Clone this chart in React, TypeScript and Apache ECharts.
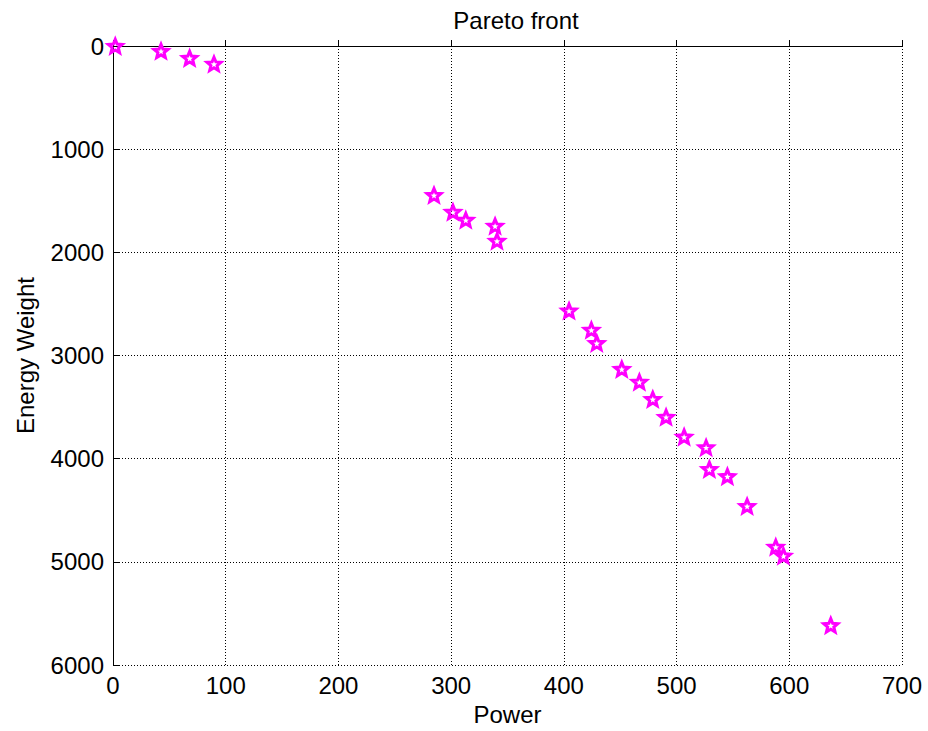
import React, { useEffect, useRef } from "react";
import * as echarts from "echarts";

const powerValues = [2, 42.6, 68, 89.6, 284.8, 301.6, 313, 339, 340.7, 404.6, 424.4, 429.2, 451.4, 467, 478.9, 490.7, 506.7, 526.2, 529.1, 545.1, 562.6, 588, 594.8, 636.8];
const energyValues = [0, 48, 116, 173, 1445, 1608, 1685, 1743, 1888, 2565, 2751, 2879, 3130, 3255, 3422, 3595, 3787, 3890, 4100, 4170, 4459, 4854, 4940, 5614];

const xTicks = { min: 0, max: 700, interval: 100 };
const yTicks = { min: 0, max: 6000, interval: 1000 };

const STAR = "path://M50 0 L62.93 32.2 L97.55 34.55 L70.92 56.8 L79.39 90.45 L50 72 L20.61 90.45 L29.08 56.8 L2.45 34.55 L37.07 32.2 Z";

const FONT = "'Liberation Sans', Arial, sans-serif";

export default function App() {
  const ref = useRef<HTMLDivElement>(null);
  useEffect(() => {
    document.body.style.margin = "0";
    const chart = echarts.init(ref.current!, null, { renderer: "svg" });
    const data = powerValues.map((p, i) => [p, energyValues[i]]);
    const axisLine = { show: true, lineStyle: { color: "#000", width: 1 } };
    const axisTick = { show: true, inside: true, length: 6, lineStyle: { color: "#000" } };
    const splitLine = { show: true, lineStyle: { color: "#000", type: [1, 2] as any, width: 1 } };
    chart.setOption({
      animation: false,
      backgroundColor: "#fff",
      title: {
        text: "Pareto front",
        left: 511,
        textAlign: "center",
        top: 3,
        textStyle: { fontFamily: FONT, fontSize: 24, fontWeight: "normal", color: "#000" },
      },
      grid: { left: 113, top: 46, width: 789, height: 622, containLabel: false },
      xAxis: {
        type: "value",
        position: "bottom",
        ...xTicks,
        name: "Power",
        nameLocation: "middle",
        nameGap: 35,
        nameTextStyle: { fontFamily: FONT, fontSize: 24, color: "#000" },
        axisLine,
        axisTick,
        splitLine,
        axisLabel: { fontFamily: FONT, fontSize: 24, color: "#000", margin: 8, formatter: (v: number) => String(v) },
      },
      yAxis: {
        type: "value",
        position: "left",
        inverse: true,
        ...yTicks,
        name: "Energy Weight",
        nameLocation: "middle",
        nameGap: 76,
        nameTextStyle: { fontFamily: FONT, fontSize: 24, color: "#000" },
        axisLine,
        axisTick,
        splitLine,
        axisLabel: { fontFamily: FONT, fontSize: 24, color: "#000", margin: 9, formatter: (v: number) => String(v) },
      },
      series: [
        {
          type: "scatter",
          data,
          symbol: STAR,
          symbolKeepAspect: true,
          symbolSize: 14,
          itemStyle: { color: "rgba(0,0,0,0)", borderColor: "#ff00ff", borderWidth: 3, opacity: 1 },
          clip: false,
        },
      ],
    });
    return () => chart.dispose();
  }, []);
  return <div ref={ref} style={{ width: 928, height: 731 }} />;
}
